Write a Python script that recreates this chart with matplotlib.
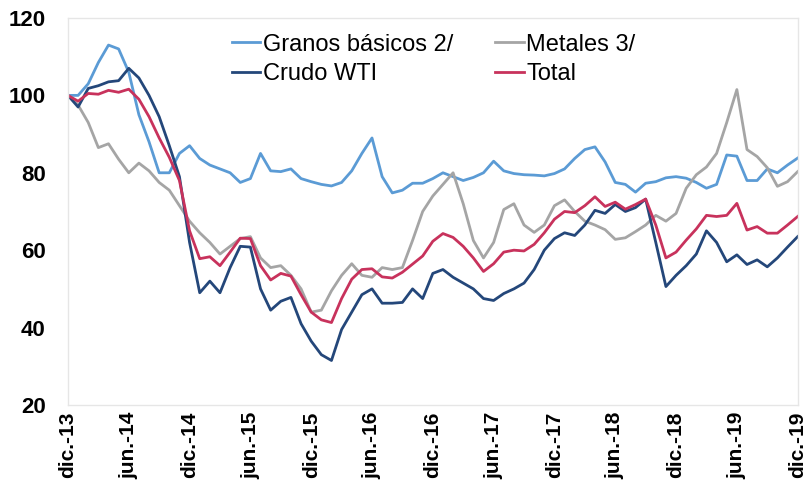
from matplotlib import pyplot as plt

# 13 etiquetas del eje x, una cada 6 meses (dic-13 ... dic-19)
x_labels = ['dic.-13', 'jun.-14', 'dic.-14', 'jun.-15', 'dic.-15', 'jun.-16', 'dic.-16',
            'jun.-17', 'dic.-17', 'jun.-18', 'dic.-18', 'jun.-19', 'dic.-19']

# indices mensuales, dic-13 = 100
granos = [100, 100, 103, 108.5, 113, 112, 106, 95, 88, 80, 80, 85, 87,
          83.7, 82, 81, 80, 77.5, 78.5, 85, 80.5, 80.3, 81, 78.5, 77.7,
          77, 76.6, 77.5, 80.5, 85, 89, 79, 74.8, 75.5, 77.3, 77.3, 78.5,
          80, 79, 78, 78.8, 80, 83, 80.5, 79.8, 79.5, 79.4, 79.2, 79.8,
          81, 83.7, 86, 86.7, 82.8, 77.5, 77, 75, 77.3, 77.7, 78.7, 79,
          78.6, 77.5, 76, 77, 84.6, 84.3, 78, 78, 81, 80, 82, 83.8]

metales = [100, 97.5, 93, 86.5, 87.5, 83.5, 80, 82.5, 80.5, 77.5, 75.5, 71.5, 67.5,
           64.5, 62, 59, 61, 63, 63.5, 58, 55.5, 56, 53.5, 50, 44,
           44.5, 49.5, 53.5, 56.5, 53.5, 53, 55.5, 55, 55.5, 62.5, 70, 74,
           77, 80, 72, 62.5, 58, 62, 70.5, 72, 66.5, 64.6, 66.5, 71.5,
           73, 70, 67.5, 66.5, 65.3, 62.8, 63.2, 64.8, 66.5, 69, 67.5, 69.5,
           76, 79.5, 81.5, 85, 93, 101.5, 86, 84.2, 81.3, 76.5, 77.7, 80.3]

crudo = [100, 97, 101.8, 102.5, 103.5, 103.8, 107, 104.5, 100, 94.5, 87, 79, 62,
         49, 52, 49, 55.5, 61, 60.8, 50, 44.5, 46.8, 47.8, 41, 36.5,
         33, 31.5, 39.5, 44, 48.5, 50, 46.3, 46.3, 46.5, 50, 47.5, 54,
         55, 53, 51.5, 50, 47.5, 47, 48.8, 50, 51.5, 55, 60, 63,
         64.5, 63.8, 66.5, 70.3, 69.5, 71.8, 70, 71, 73.2, 62, 50.6, 53.5,
         56, 59, 65, 62, 57, 58.8, 56.3, 57.5, 55.7, 58, 60.8, 63.5]

total = [100, 98.5, 100.5, 100.3, 101.3, 100.8, 101.6, 99, 94.5, 89, 84, 78, 65,
         57.8, 58.3, 56, 59.5, 63.1, 63, 56, 52.3, 54, 53.3, 48.5, 44,
         42, 41.3, 47.5, 52.5, 55, 55.2, 53.1, 52.8, 54.3, 56.4, 58.5, 62.3,
         64.3, 63.3, 61, 58, 54.5, 56.5, 59.5, 60, 59.8, 61.5, 64.5, 68,
         70, 69.7, 71.5, 73.8, 71.3, 72.4, 70.6, 71.8, 73.2, 66.5, 58, 59.5,
         62.6, 65.5, 69, 68.7, 69, 72.1, 65.2, 66.1, 64.4, 64.4, 66.5, 68.7]

x = range(len(total))

plt.rcParams['font.family'] = ['Liberation Sans', 'DejaVu Sans']

fig = plt.figure(figsize=(8.09, 4.86), dpi=100)
ax = fig.add_axes([0.084, 0.1667, 0.902, 0.7963])

l1, = ax.plot(x, granos, color='#5B9BD5', linewidth=2, label='Granos básicos 2/')
l2, = ax.plot(x, metales, color='#A5A5A5', linewidth=2, label='Metales 3/')
l3, = ax.plot(x, crudo, color='#24477A', linewidth=2, label='Crudo WTI')
l4, = ax.plot(x, total, color='#C8325C', linewidth=2, label='Total')

ax.set_xlim(0, 72)
ax.set_ylim(20, 120)
ax.set_yticks(range(20, 121, 20))
ax.set_xticks(range(0, 73, 6))
ax.set_xticklabels(x_labels, rotation=90, fontsize=15, fontweight='bold')
for t in ax.get_yticklabels():
    t.set_fontsize(16)
    t.set_fontweight('bold')
ax.tick_params(axis='both', length=0)
ax.tick_params(axis='y', pad=16)
ax.tick_params(axis='x', pad=5)

for s in ax.spines.values():
    s.set_color('#E6E6E6')
    s.set_linewidth(1)

# leyenda en dos columnas, sin marco
fig.legend(handles=[l1, l3, l2, l4], ncol=2, frameon=False, fontsize=17,
           loc='upper left', bbox_to_anchor=(0.275, 0.95),
           handlelength=1.2, handletextpad=0.1, columnspacing=1.8,
           labelspacing=0.3, borderaxespad=0)

plt.savefig('out.png', dpi=100)
